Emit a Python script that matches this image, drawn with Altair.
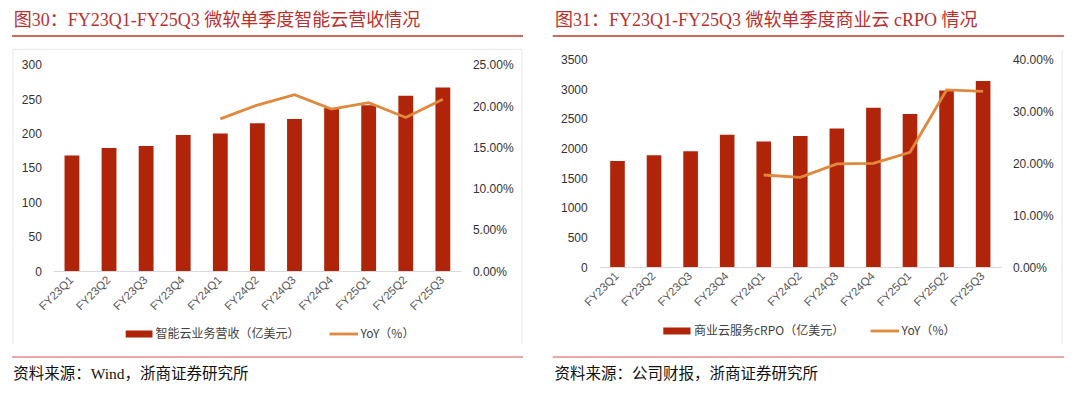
import altair as alt
import pandas as pd

# ---------------- data ----------------
quarters = ["FY23Q1", "FY23Q2", "FY23Q3", "FY23Q4", "FY24Q1", "FY24Q2",
            "FY24Q3", "FY24Q4", "FY25Q1", "FY25Q2", "FY25Q3"]

ic_revenue = [168, 179, 182, 198, 200, 215, 221, 237, 241, 255, 267]
ic_yoy = [None, None, None, None, 0.1845, 0.2012, 0.2137, 0.1962, 0.2041, 0.1861, 0.2083]

crpo = [1790, 1885, 1953, 2233, 2116, 2209, 2337, 2686, 2581, 2977, 3140]
crpo_yoy = [None, None, None, None, 0.1774, 0.1728, 0.1987, 0.2000, 0.2213, 0.3415, 0.3389]

left_title = "图30：FY23Q1-FY25Q3 微软单季度智能云营收情况"
right_title = "图31：FY23Q1-FY25Q3 微软单季度商业云 cRPO 情况"
left_legend = ["智能云业务营收（亿美元）", "YoY（%）"]
right_legend = ["商业云服务cRPO（亿美元）", "YoY（%）"]
left_source = "资料来源：Wind，浙商证券研究所"
right_source = "资料来源：公司财报，浙商证券研究所"

left_ticks = [0, 50, 100, 150, 200, 250, 300]
left_pct_ticks = [0, 0.05, 0.10, 0.15, 0.20, 0.25]
right_ticks = [0, 500, 1000, 1500, 2000, 2500, 3000, 3500]
right_pct_ticks = [0, 0.10, 0.20, 0.30, 0.40]

# ---------------- style ----------------
BAR = "#B0250A"
LINE = "#E0883C"
TITLE_RED = "#B8312F"
RULE_TOP = "#C0392B"
RULE_BOT = "#D9534F"
BOX = "#E6E6E6"
PW, PH = 532, 381
SANS = "Liberation Sans"
CJK = "Noto Sans CJK SC"
SERIF = "Liberation Serif, Noto Sans CJK SC"


def one(text):
    return pd.DataFrame({"t": [text]})


def panel(vals, yoy, ymax, yticks, pmax, pticks, xr, yr, title, title_x,
          legend, leg, source, box):
    df = pd.DataFrame({"q": quarters, "v": vals, "yoy": yoy})
    base = alt.Chart(df)
    x = alt.X("q:N", sort=quarters,
              scale=alt.Scale(range=xr, paddingInner=0.6, paddingOuter=0.3),
              axis=alt.Axis(title=None, labelAngle=-45, labelAlign="right",
                            labelBaseline="middle", labelFontSize=11.5,
                            labelFont=SANS, labelColor="#595959",
                            ticks=False, tickSize=0, domainColor="#D9D9D9",
                            domainWidth=1, labelPadding=7, labelOverlap=False,
                            grid=False, offset=yr[0] - PH))
    bars = base.mark_bar(color=BAR).encode(
        x=x,
        y=alt.Y("v:Q", scale=alt.Scale(domain=[0, ymax], range=yr, nice=False),
                axis=alt.Axis(title=None, values=yticks, format="d", grid=False,
                              ticks=False, tickSize=0, domain=False,
                              labelFont=SANS, labelFontSize=12,
                              labelColor="#333333", labelPadding=12,
                              offset=-xr[0])))
    line = base.transform_filter("isValid(datum.yoy)").mark_line(
        color=LINE, strokeWidth=2.8).encode(
        x=alt.X("q:N", sort=quarters),
        y=alt.Y("yoy:Q", scale=alt.Scale(domain=[0, pmax], range=yr, nice=False),
                axis=alt.Axis(title=None, orient="right", values=pticks,
                              format=".2%", grid=False, ticks=False, tickSize=0,
                              domain=False, labelFont=SANS, labelFontSize=12,
                              labelColor="#333333", labelPadding=11,
                              offset=xr[1] - PW)))

    layers = [bars, line]
    # title
    layers.append(alt.Chart(one(title)).mark_text(
        align="left", baseline="middle", font=SERIF, fontSize=18,
        color=TITLE_RED).encode(x=alt.value(title_x), y=alt.value(13), text="t:N"))
    # red rules
    layers.append(alt.Chart(one("a")).mark_rule(color=RULE_TOP, strokeWidth=1.3).encode(
        x=alt.value(box["rx0"]), x2=alt.value(box["rx1"]), y=alt.value(28)))
    layers.append(alt.Chart(one("b")).mark_rule(color=RULE_BOT, strokeWidth=1.2).encode(
        x=alt.value(box["rx0"]), x2=alt.value(box["rx1"]), y=alt.value(349)))
    # box borders
    for seg in box["segs"]:
        layers.append(alt.Chart(one("s")).mark_rule(color=BOX, strokeWidth=1).encode(
            x=alt.value(seg[0]), x2=alt.value(seg[1]),
            y=alt.value(seg[2]), y2=alt.value(seg[3])))
    # source
    layers.append(alt.Chart(one(source)).mark_text(
        align="left", baseline="middle", font=SERIF, fontSize=15.5,
        color="#111111").encode(x=alt.value(title_x - 0.5), y=alt.value(366), text="t:N"))
    # legend
    ly = leg["y"]
    layers.append(alt.Chart(one("r")).mark_rect(color=BAR).encode(
        x=alt.value(leg["r0"]), x2=alt.value(leg["r1"]),
        y=alt.value(ly - 3.5), y2=alt.value(ly + 3.5)))
    layers.append(alt.Chart(one(legend[0])).mark_text(
        align="left", baseline="middle", font=CJK, fontSize=12,
        color="#404040").encode(x=alt.value(leg["t0"]), y=alt.value(ly), text="t:N"))
    layers.append(alt.Chart(one("l")).mark_rule(color=LINE, strokeWidth=2.8).encode(
        x=alt.value(leg["l0"]), x2=alt.value(leg["l1"]), y=alt.value(ly)))
    layers.append(alt.Chart(one(legend[1])).mark_text(
        align="left", baseline="middle", font=CJK, fontSize=12,
        color="#404040").encode(x=alt.value(leg["t1"]), y=alt.value(ly), text="t:N"))

    return alt.layer(*layers).resolve_scale(y="independent").properties(
        width=PW, height=PH)


left = panel(ic_revenue, ic_yoy, 300, left_ticks, 0.25, left_pct_ticks,
             [45.4, 453.4], [263, 56.8], left_title, 5.8, left_legend,
             {"y": 326, "r0": 117.7, "r1": 144.5, "t0": 147.6, "l0": 321.5,
              "l1": 350, "t1": 352.5},
             left_source,
             {"rx0": 4, "rx1": 515,
              "segs": [(5, 5, 41.3, 336), (5, 514, 41.3, 41.3), (514, 514, 41.3, 336)]})

right = panel(crpo, crpo_yoy, 3500, right_ticks, 0.40, right_pct_ticks,
              [59.2, 461.4], [259, 51.6], right_title, 15, right_legend,
              {"y": 323, "r0": 123.3, "r1": 150.5, "t0": 154, "l0": 330.6,
               "l1": 359, "t1": 361.6},
              right_source,
              {"rx0": 12.7, "rx1": 524,
               "segs": [(522, 522, 42, 336)]})

chart = alt.hconcat(left, right, spacing=0).properties(
    padding=0, background="white").configure_view(strokeWidth=0)

chart.save("out.html", embed_options={"renderer": "svg", "actions": False})
